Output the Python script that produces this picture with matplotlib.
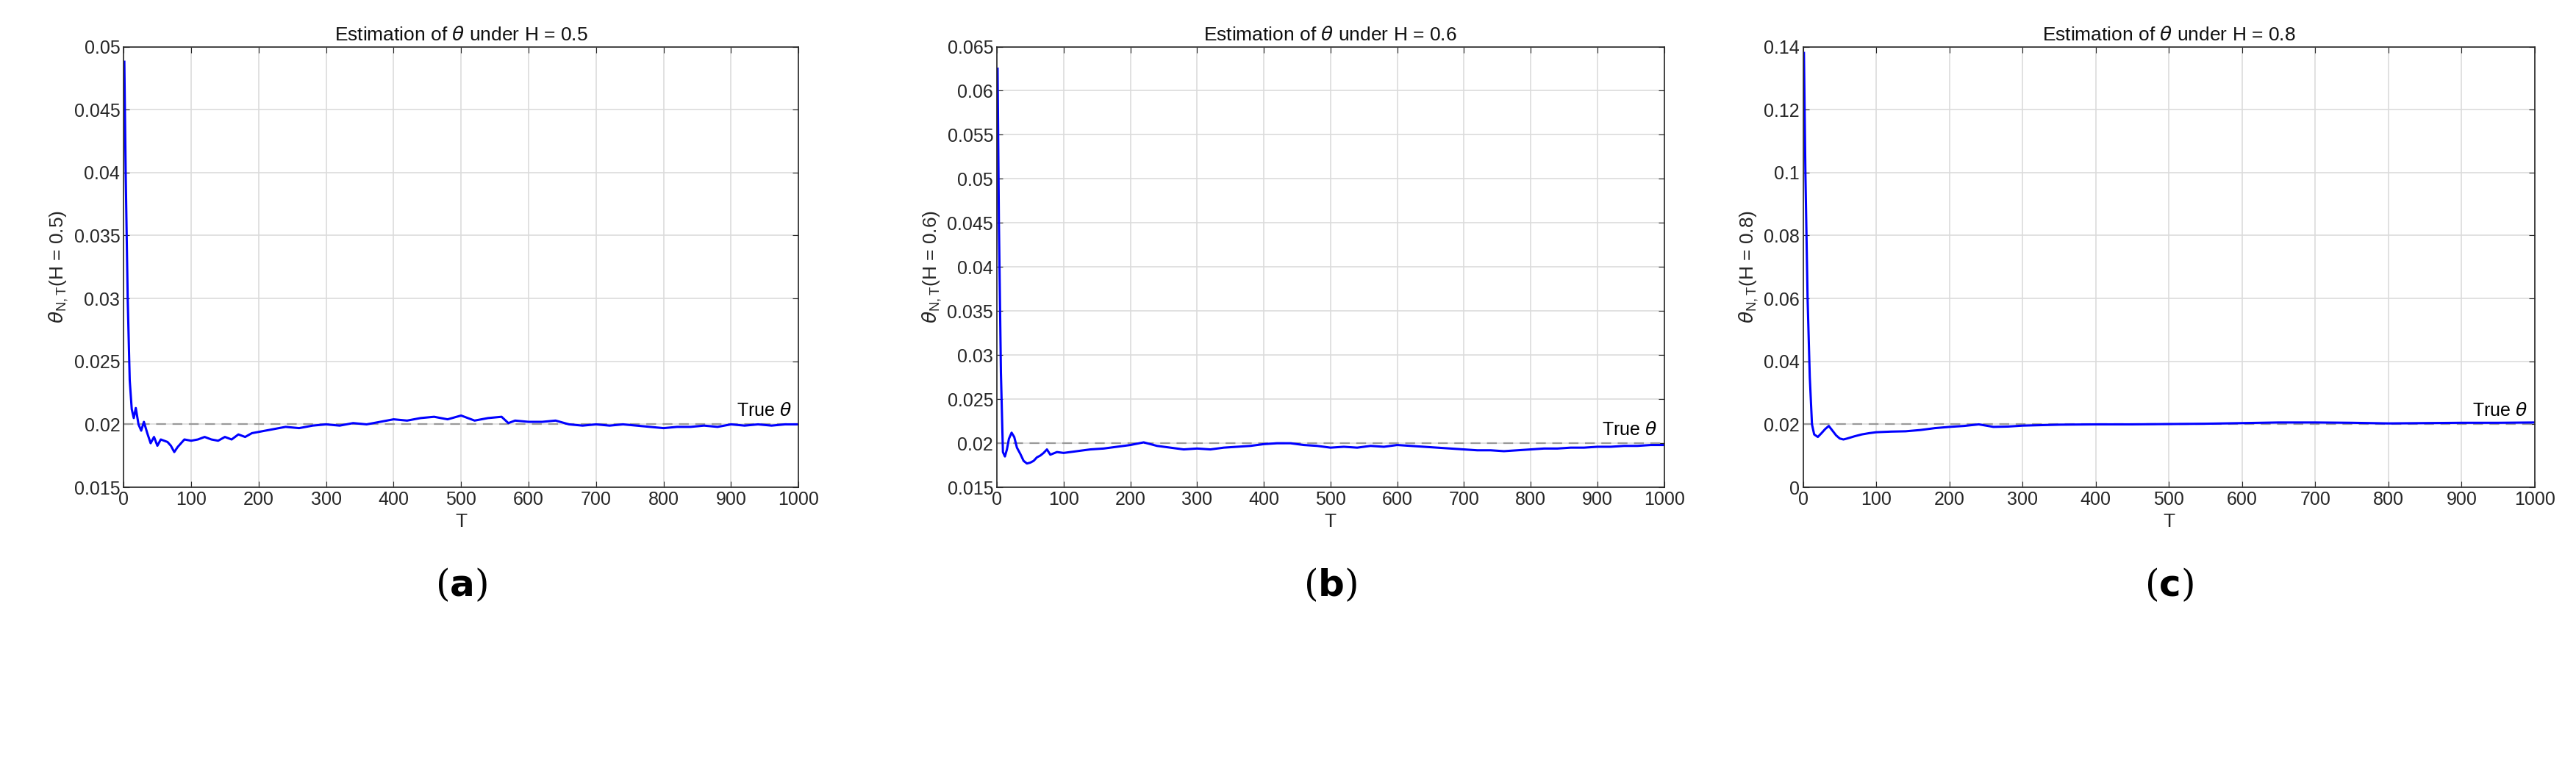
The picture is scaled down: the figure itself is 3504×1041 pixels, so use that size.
import matplotlib
matplotlib.use("Agg")
import matplotlib.pyplot as plt
import numpy as np

plt.rcParams['font.family'] = ['Liberation Sans', 'DejaVu Sans']

T_a = [1, 3, 6, 9, 12, 15, 18, 22, 26, 30, 35, 40, 45, 50, 55, 60, 65, 70, 75, 80, 90, 100, 110, 120, 130, 140, 150, 160, 170, 180, 190, 200, 220, 240, 260, 280, 300, 320, 340, 360, 380, 400, 420, 440, 460, 480, 500, 520, 540, 560, 570, 580, 600, 620, 640, 660, 680, 700, 720, 740, 760, 780, 800, 820, 840, 860, 880, 900, 920, 940, 960, 980, 1000]
V_a = [0.0488, 0.040, 0.030, 0.0235, 0.0212, 0.0205, 0.0213, 0.0200, 0.0195, 0.0202, 0.0193, 0.0185, 0.0190, 0.0183, 0.0188, 0.0187, 0.0186, 0.0183, 0.0178, 0.0182, 0.0188, 0.0187, 0.0188, 0.0190, 0.0188, 0.0187, 0.0190, 0.0188, 0.0192, 0.0190, 0.0193, 0.0194, 0.0196, 0.0198, 0.0197, 0.0199, 0.0200, 0.0199, 0.0201, 0.0200, 0.0202, 0.0204, 0.0203, 0.0205, 0.0206, 0.0204, 0.0207, 0.0203, 0.0205, 0.0206, 0.0201, 0.0203, 0.0202, 0.0202, 0.0203, 0.0200, 0.0199, 0.0200, 0.0199, 0.0200, 0.0199, 0.0198, 0.0197, 0.0198, 0.0198, 0.0199, 0.0198, 0.0200, 0.0199, 0.0200, 0.0199, 0.0200, 0.0200]

T_b = [1, 3, 6, 9, 12, 15, 18, 22, 26, 30, 35, 40, 45, 50, 55, 60, 65, 70, 75, 80, 90, 100, 120, 140, 160, 180, 200, 220, 240, 260, 280, 300, 320, 340, 360, 380, 400, 420, 440, 460, 480, 500, 520, 540, 560, 580, 600, 620, 640, 660, 680, 700, 720, 740, 760, 780, 800, 820, 840, 860, 880, 900, 920, 940, 960, 980, 1000]
V_b = [0.0625, 0.045, 0.028, 0.0190, 0.0185, 0.0193, 0.0205, 0.0212, 0.0207, 0.0195, 0.0188, 0.0180, 0.0177, 0.0178, 0.0180, 0.0184, 0.0186, 0.0189, 0.0193, 0.0187, 0.0190, 0.0189, 0.0191, 0.0193, 0.0194, 0.0196, 0.0198, 0.0201, 0.0197, 0.0195, 0.0193, 0.0194, 0.0193, 0.0195, 0.0196, 0.0197, 0.0199, 0.0200, 0.0200, 0.0198, 0.0197, 0.0195, 0.0196, 0.0195, 0.0197, 0.0196, 0.0198, 0.0197, 0.0196, 0.0195, 0.0194, 0.0193, 0.0192, 0.0192, 0.0191, 0.0192, 0.0193, 0.0194, 0.0194, 0.0195, 0.0195, 0.0196, 0.0196, 0.0197, 0.0197, 0.0198, 0.0198]

T_c = [1, 3, 6, 9, 12, 15, 20, 25, 30, 35, 40, 45, 50, 55, 60, 70, 80, 90, 100, 120, 140, 160, 180, 200, 220, 240, 260, 280, 300, 350, 400, 450, 500, 550, 600, 650, 700, 750, 800, 850, 900, 950, 1000]
V_c = [0.138, 0.100, 0.060, 0.035, 0.020, 0.0168, 0.0160, 0.0172, 0.0185, 0.0195, 0.0180, 0.0165, 0.0155, 0.0152, 0.0155, 0.0162, 0.0168, 0.0172, 0.0175, 0.0177, 0.0178, 0.0182, 0.0188, 0.0192, 0.0195, 0.0200, 0.0192, 0.0193, 0.0196, 0.0199, 0.0200, 0.0200, 0.0201, 0.0202, 0.0204, 0.0206, 0.0206, 0.0205, 0.0203, 0.0204, 0.0205, 0.0205, 0.0206]

true_theta = 0.02
titles = [r"Estimation of $\theta$ under H = 0.5", r"Estimation of $\theta$ under H = 0.6", r"Estimation of $\theta$ under H = 0.8"]
ylabels = [r"$\theta_{\mathregular{N,T}}$(H = 0.5)", r"$\theta_{\mathregular{N,T}}$(H = 0.6)", r"$\theta_{\mathregular{N,T}}$(H = 0.8)"]
ylims = [(0.015, 0.05), (0.015, 0.065), (0, 0.14)]
yticks = [np.arange(0.015, 0.0501, 0.005), np.arange(0.015, 0.0651, 0.005), np.arange(0, 0.1401, 0.02)]
ytl = [["0.015","0.02","0.025","0.03","0.035","0.04","0.045","0.05"],
       ["0.015","0.02","0.025","0.03","0.035","0.04","0.045","0.05","0.055","0.06","0.065"],
       ["0","0.02","0.04","0.06","0.08","0.1","0.12","0.14"]]
captions = ["a", "b", "c"]
data = [(T_a, V_a), (T_b, V_b), (T_c, V_c)]
boxes = [(0.048, 0.262), (0.387, 0.259), (0.700, 0.284)]

fig = plt.figure(figsize=(35.04, 10.41), dpi=100)
for i in range(3):
    l, w = boxes[i]
    ax = fig.add_axes([l, 0.363, w, 0.576])
    T, V = data[i]
    ax.plot([0, 1000], [true_theta, true_theta], '--', color='#999999', lw=1.6, dashes=(6, 4))
    ax.plot(T, V, color='#0000ff', lw=2.2)
    ax.set_xlim(0, 1000)
    ax.set_ylim(*ylims[i])
    ax.set_xticks(np.arange(0, 1001, 100))
    ax.set_yticks(yticks[i])
    ax.set_yticklabels(ytl[i])
    ax.grid(True, color='#dcdcdc', lw=1.2)
    ax.tick_params(direction='in', labelsize=18, colors='#262626', length=6, top=True, right=True)
    for s in ax.spines.values():
        s.set_color('#262626'); s.set_linewidth(1.2)
    ax.set_xlabel("T", fontsize=19, color='#262626')
    ax.set_ylabel(ylabels[i], fontsize=19, color='#262626')
    ax.set_title(titles[i], fontsize=19, color='#111111')
    ax.text(990, true_theta + (ylims[i][1]-ylims[i][0])*0.01, r"True $\theta$", ha='right', va='bottom', fontsize=18)
    fig.text(l + w/2, 0.235, r"($\mathbf{%s}$)" % captions[i], ha='center', va='center', fontsize=36, family='DejaVu Serif')
fig.savefig("out.png", dpi=100, facecolor='white')
